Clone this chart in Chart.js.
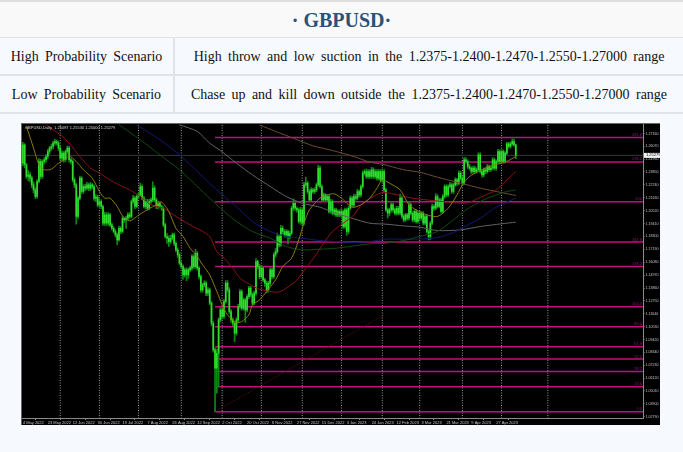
<!DOCTYPE html>
<html>
<head>
<meta charset="utf-8">
<title>GBPUSD</title>
<script src="https://cdn.jsdelivr.net/npm/chart.js@4"></script>
<style>
  html, body { margin: 0; padding: 0; background: #f6f9fe; }
  body { width: 683px; height: 452px; overflow: hidden; position: relative; font-family: "Liberation Serif", serif; color: #111; }
  #titulo { position: absolute; left: 0; top: 2px; width: 683px; height: 35px; line-height: 36px; background: #f9f9f9; text-align: center;
    font-weight: bold; font-size: 20px; color: #2a5278; border-top: 2px solid #dedede; margin-top: -2px; border-bottom: 1px solid #dfe3ea; }
  table { position: absolute; left: 0; top: 38px; width: 683px; border-collapse: collapse; table-layout: fixed; font-size: 14px; }
  td { height: 34px; padding: 2px 0 0 0; text-align: center; border-bottom: 2px solid #dfe3ea; white-space: nowrap; }
  td.esq { width: 173px; border-right: 2px solid #dfe3ea; word-spacing: 2.7px; }
  td.dir { word-spacing: 2.9px; }
  #moldura { position: absolute; left: 21px; top: 123px; width: 639px; height: 302px; background: #000; border-top: 1px solid #666; box-sizing: border-box; border-left: 1px solid #666; }
  canvas { position: absolute; left: 0; top: 0; filter: blur(0.3px); }
</style>
</head>
<body>
<div id="titulo">· GBPUSD·</div>
<table>
  <tr><td class="esq">High Probability Scenario</td><td class="dir">High throw and low suction in the 1.2375-1.2400-1.2470-1.2550-1.27000 range</td></tr>
  <tr><td class="esq">Low Probability Scenario</td><td class="dir">Chase up and kill down outside the 1.2375-1.2400-1.2470-1.2550-1.27000 range</td></tr>
</table>
<div id="moldura"><canvas id="grafico" width="638" height="301"></canvas></div>

<script>
// candles, um por dia
const opens = [
  1.2461,1.2619,1.2447,1.2346,1.2360,1.2332,1.2274,1.2231,1.2174,1.2303,
  1.2475,1.2346,1.2475,1.2490,1.2518,1.2561,1.2590,1.2604,1.2633,1.2647,
  1.2633,1.2590,1.2504,1.2547,1.2490,1.2561,1.2590,1.2490,1.2475,1.2317,
  1.2274,1.2002,1.2160,1.2332,1.2217,1.2260,1.2246,1.2274,1.2246,1.2274,
  1.2260,1.2160,1.2168,1.2102,1.2131,1.2088,1.1944,1.2016,1.1944,1.2016,
  1.1930,1.1901,1.1873,1.1844,1.1801,1.1901,1.1873,1.1987,1.1973,1.1987,
  1.2016,1.2002,1.2131,1.2160,1.2088,1.2174,1.2188,1.2260,1.2160,1.2088,
  1.2131,1.2073,1.2131,1.2145,1.2246,1.2145,1.2088,1.2116,1.2088,1.2073,
  1.1930,1.1830,1.1815,1.1786,1.1815,1.1844,1.1772,1.1715,1.1672,1.1600,
  1.1571,1.1499,1.1542,1.1499,1.1542,1.1557,1.1657,1.1571,1.1686,1.1557,
  1.1485,1.1370,1.1413,1.1428,1.1342,1.1370,1.1256,1.1083,1.0854,1.0696,
  1.0825,1.1112,1.1198,1.1141,1.1270,1.1428,1.1370,1.1184,1.1112,1.1083,
  1.0997,1.1112,1.1227,1.1356,1.1212,1.1284,1.1198,1.1313,1.1385,1.1327,
  1.1256,1.1342,1.1614,1.1571,1.1485,1.1557,1.1456,1.1428,1.1370,1.1428,
  1.1542,1.1485,1.1672,1.1700,1.1830,1.1758,1.1901,1.1873,1.1844,1.1873,
  1.1830,1.1858,1.2073,1.2116,1.2073,1.2059,1.1959,1.2059,1.1944,1.2274,
  1.2289,1.2217,1.2145,1.2231,1.2217,1.2231,1.2274,1.2418,1.2260,1.2145,
  1.2188,1.2145,1.2174,1.2045,1.2131,1.2030,1.2059,1.2016,1.2045,1.2016,
  1.2045,1.1916,1.2059,1.1873,1.2073,1.2160,1.2102,1.2174,1.2160,1.2217,
  1.2188,1.2260,1.2375,1.2389,1.2346,1.2389,1.2346,1.2404,1.2346,1.2389,
  1.2332,1.2389,1.2317,1.2389,1.2231,1.2059,1.2030,1.2059,1.2102,1.2059,
  1.2030,1.2073,1.2030,1.2160,1.2002,1.1973,1.2016,1.1987,1.2102,1.2030,
  1.1973,1.2045,1.1959,1.2030,1.1987,1.2030,1.1944,1.2002,1.1873,1.1830,
  1.1944,1.2088,1.2073,1.2174,1.2088,1.2145,1.2045,1.2174,1.2260,1.2188,
  1.2260,1.2274,1.2217,1.2274,1.2317,1.2289,1.2375,1.2332,1.2289,1.2490,
  1.2475,1.2432,1.2418,1.2389,1.2418,1.2389,1.2404,1.2533,1.2389,1.2360,
  1.2404,1.2389,1.2432,1.2404,1.2418,1.2490,1.2418,1.2475,1.2561,1.2475,
  1.2561,1.2475,1.2547,1.2627,1.2604,1.2627,1.2647,1.2619
];
const highs = [
  1.2640,1.2630,1.2460,1.2400,1.2385,1.2350,1.2300,1.2250,1.2320,1.2500,
  1.2495,1.2490,1.2510,1.2535,1.2580,1.2605,1.2625,1.2650,1.2665,1.2660,
  1.2650,1.2610,1.2565,1.2560,1.2575,1.2610,1.2605,1.2505,1.2490,1.2335,
  1.2290,1.2175,1.2350,1.2345,1.2275,1.2280,1.2295,1.2290,1.2295,1.2285,
  1.2275,1.2190,1.2185,1.2150,1.2145,1.2100,1.2040,1.2035,1.2035,1.2030,
  1.1945,1.1915,1.1890,1.1860,1.1920,1.1915,1.2005,1.1995,1.2005,1.2035,
  1.2035,1.2145,1.2185,1.2175,1.2190,1.2205,1.2290,1.2275,1.2175,1.2150,
  1.2150,1.2150,1.2160,1.2300,1.2265,1.2160,1.2135,1.2130,1.2100,1.2085,
  1.1945,1.1855,1.1835,1.1840,1.1860,1.1860,1.1785,1.1730,1.1690,1.1615,
  1.1585,1.1560,1.1560,1.1560,1.1575,1.1675,1.1675,1.1720,1.1700,1.1570,
  1.1500,1.1430,1.1450,1.1445,1.1390,1.1385,1.1270,1.1100,1.0870,1.0860,
  1.1130,1.1215,1.1215,1.1290,1.1450,1.1450,1.1390,1.1200,1.1130,1.1100,
  1.1130,1.1245,1.1375,1.1370,1.1300,1.1300,1.1330,1.1400,1.1400,1.1345,
  1.1360,1.1640,1.1625,1.1590,1.1575,1.1570,1.1470,1.1445,1.1445,1.1560,
  1.1560,1.1690,1.1725,1.1860,1.1845,1.1925,1.1920,1.1890,1.1890,1.1885,
  1.1875,1.2090,1.2155,1.2135,1.2085,1.2075,1.2080,1.2075,1.2295,1.2340,
  1.2305,1.2235,1.2250,1.2245,1.2250,1.2290,1.2445,1.2435,1.2275,1.2205,
  1.2200,1.2190,1.2190,1.2150,1.2145,1.2075,1.2075,1.2060,1.2060,1.2065,
  1.2060,1.2075,1.2075,1.2090,1.2180,1.2175,1.2195,1.2190,1.2235,1.2230,
  1.2275,1.2395,1.2405,1.2410,1.2405,1.2405,1.2425,1.2420,1.2405,1.2405,
  1.2405,1.2405,1.2405,1.2405,1.2245,1.2075,1.2075,1.2120,1.2120,1.2075,
  1.2090,1.2090,1.2195,1.2175,1.2020,1.2030,1.2030,1.2125,1.2115,1.2045,
  1.2060,1.2060,1.2045,1.2045,1.2045,1.2045,1.2015,1.2020,1.1885,1.1960,
  1.2110,1.2105,1.2200,1.2190,1.2160,1.2160,1.2190,1.2275,1.2275,1.2275,
  1.2295,1.2290,1.2290,1.2335,1.2330,1.2395,1.2390,1.2345,1.2510,1.2510,
  1.2490,1.2450,1.2430,1.2435,1.2435,1.2420,1.2550,1.2550,1.2405,1.2420,
  1.2420,1.2450,1.2445,1.2435,1.2510,1.2505,1.2490,1.2580,1.2575,1.2575,
  1.2575,1.2560,1.2640,1.2640,1.2645,1.2670,1.2668,1.2625
];
const lows = [
  1.2440,1.2420,1.2330,1.2310,1.2300,1.2250,1.2205,1.2155,1.2160,1.2290,
  1.2325,1.2330,1.2455,1.2470,1.2500,1.2540,1.2570,1.2585,1.2615,1.2615,
  1.2570,1.2490,1.2485,1.2470,1.2475,1.2545,1.2470,1.2455,1.2300,1.2250,
  1.1935,1.1985,1.2145,1.2200,1.2200,1.2225,1.2230,1.2225,1.2225,1.2240,
  1.2140,1.2130,1.2085,1.2085,1.2070,1.1925,1.1925,1.1925,1.1925,1.1915,
  1.1885,1.1860,1.1825,1.1760,1.1790,1.1855,1.1860,1.1950,1.1900,1.1970,
  1.1985,1.1990,1.2115,1.2070,1.2075,1.2155,1.2175,1.2145,1.2075,1.2070,
  1.2055,1.2060,1.2115,1.2130,1.2130,1.2070,1.2070,1.2075,1.2055,1.1915,
  1.1815,1.1770,1.1745,1.1770,1.1800,1.1750,1.1700,1.1650,1.1585,1.1555,
  1.1460,1.1480,1.1450,1.1470,1.1530,1.1540,1.1555,1.1555,1.1540,1.1465,
  1.1350,1.1350,1.1395,1.1320,1.1320,1.1240,1.1060,1.0835,1.0323,1.0481,
  1.0538,1.1095,1.1120,1.1125,1.1255,1.1350,1.1165,1.1090,1.1060,1.0925,
  1.0980,1.1095,1.1210,1.1195,1.1195,1.1090,1.1180,1.1295,1.1310,1.1240,
  1.1240,1.1325,1.1550,1.1465,1.1470,1.1440,1.1400,1.1345,1.1350,1.1410,
  1.1465,1.1470,1.1655,1.1685,1.1740,1.1745,1.1855,1.1825,1.1825,1.1765,
  1.1810,1.1845,1.2055,1.2055,1.2040,1.1945,1.1935,1.1920,1.1930,1.2255,
  1.2200,1.2130,1.2130,1.2200,1.2200,1.2215,1.2260,1.2245,1.2130,1.2130,
  1.2130,1.2130,1.2030,1.2030,1.2015,1.2015,1.2000,1.2000,1.2000,1.2000,
  1.1900,1.1900,1.1840,1.1855,1.2060,1.2085,1.2085,1.2145,1.2145,1.2170,
  1.2170,1.2245,1.2360,1.2330,1.2330,1.2330,1.2330,1.2330,1.2330,1.2315,
  1.2315,1.2300,1.2300,1.2215,1.2045,1.1990,1.2010,1.2040,1.2040,1.2015,
  1.2015,1.2015,1.2015,1.1985,1.1955,1.1960,1.1970,1.1970,1.2015,1.1955,
  1.1955,1.1945,1.1945,1.1970,1.1970,1.1930,1.1930,1.1860,1.1800,1.1805,
  1.1930,1.2055,1.2060,1.2075,1.2075,1.2030,1.2030,1.2160,1.2170,1.2175,
  1.2245,1.2200,1.2200,1.2260,1.2270,1.2275,1.2315,1.2270,1.2275,1.2460,
  1.2415,1.2400,1.2370,1.2375,1.2375,1.2375,1.2390,1.2375,1.2340,1.2345,
  1.2370,1.2375,1.2390,1.2390,1.2405,1.2400,1.2400,1.2460,1.2460,1.2460,
  1.2460,1.2460,1.2535,1.2590,1.2590,1.2615,1.2605,1.2500
];
const closes = [
  1.2619,1.2447,1.2346,1.2360,1.2332,1.2274,1.2231,1.2174,1.2303,1.2475,
  1.2346,1.2475,1.2490,1.2518,1.2561,1.2590,1.2604,1.2633,1.2647,1.2633,
  1.2590,1.2504,1.2547,1.2490,1.2561,1.2590,1.2490,1.2475,1.2317,1.2274,
  1.2002,1.2160,1.2332,1.2217,1.2260,1.2246,1.2274,1.2246,1.2274,1.2260,
  1.2160,1.2168,1.2102,1.2131,1.2088,1.1944,1.2016,1.1944,1.2016,1.1930,
  1.1901,1.1873,1.1844,1.1801,1.1901,1.1873,1.1987,1.1973,1.1987,1.2016,
  1.2002,1.2131,1.2160,1.2088,1.2174,1.2188,1.2260,1.2160,1.2088,1.2131,
  1.2073,1.2131,1.2145,1.2246,1.2145,1.2088,1.2116,1.2088,1.2073,1.1930,
  1.1830,1.1815,1.1786,1.1815,1.1844,1.1772,1.1715,1.1672,1.1600,1.1571,
  1.1499,1.1542,1.1499,1.1542,1.1557,1.1657,1.1571,1.1686,1.1557,1.1485,
  1.1370,1.1413,1.1428,1.1342,1.1370,1.1256,1.1083,1.0854,1.0696,1.0825,
  1.1112,1.1198,1.1141,1.1270,1.1428,1.1370,1.1184,1.1112,1.1083,1.0997,
  1.1112,1.1227,1.1356,1.1212,1.1284,1.1198,1.1313,1.1385,1.1327,1.1256,
  1.1342,1.1614,1.1571,1.1485,1.1557,1.1456,1.1428,1.1370,1.1428,1.1542,
  1.1485,1.1672,1.1700,1.1830,1.1758,1.1901,1.1873,1.1844,1.1873,1.1830,
  1.1858,1.2073,1.2116,1.2073,1.2059,1.1959,1.2059,1.1944,1.2274,1.2289,
  1.2217,1.2145,1.2231,1.2217,1.2231,1.2274,1.2418,1.2260,1.2145,1.2188,
  1.2145,1.2174,1.2045,1.2131,1.2030,1.2059,1.2016,1.2045,1.2016,1.2045,
  1.1916,1.2059,1.1873,1.2073,1.2160,1.2102,1.2174,1.2160,1.2217,1.2188,
  1.2260,1.2375,1.2389,1.2346,1.2389,1.2346,1.2404,1.2346,1.2389,1.2332,
  1.2389,1.2317,1.2389,1.2231,1.2059,1.2030,1.2059,1.2102,1.2059,1.2030,
  1.2073,1.2030,1.2160,1.2002,1.1973,1.2016,1.1987,1.2102,1.2030,1.1973,
  1.2045,1.1959,1.2030,1.1987,1.2030,1.1944,1.2002,1.1873,1.1830,1.1944,
  1.2088,1.2073,1.2174,1.2088,1.2145,1.2045,1.2174,1.2260,1.2188,1.2260,
  1.2274,1.2217,1.2274,1.2317,1.2289,1.2375,1.2332,1.2289,1.2490,1.2475,
  1.2432,1.2418,1.2389,1.2418,1.2389,1.2404,1.2533,1.2389,1.2360,1.2404,
  1.2389,1.2432,1.2404,1.2418,1.2490,1.2418,1.2475,1.2561,1.2475,1.2561,
  1.2475,1.2547,1.2627,1.2604,1.2627,1.2647,1.2619,1.2528
];

// medias moveis: [indice do candle, preco]
const maAmarela = [[2,1.2777],[6,1.2590],[9,1.2447],[12,1.2404],[16,1.2409],[20,1.2461],[24,1.2495],[26,1.2524],[30,1.2475],[34,1.2404],[39,1.2332],[43,1.2217],[46,1.2160],[49,1.2160],[53,1.2088],[56,1.2007],[60,1.1964],[64,1.2002],[69,1.2053],[74,1.2094],[78,1.2125],[82,1.2045],[86,1.1901],[90,1.1830],[94,1.1729],[98,1.1657],[101,1.1586],[105,1.1499],[109,1.1356],[112,1.1241],[115,1.1155],[120,1.1089],[123,1.1098],[127,1.1155],[129,1.1241],[133,1.1284],[142,1.1456],[146,1.1571],[151,1.1643],[155,1.1801],[158,1.1944],[161,1.2059],[167,1.2160],[171,1.2188],[175,1.2197],[179,1.2160],[185,1.2082],[190,1.2102],[195,1.2160],[199,1.2246],[202,1.2317],[206,1.2289],[212,1.2231],[217,1.2102],[221,1.2059],[227,1.2016],[233,1.2002],[239,1.2073],[244,1.2188],[247,1.2274],[251,1.2346],[256,1.2389],[262,1.2432],[269,1.2461],[273,1.2484],[277,1.2518]];
const maVermelha = [[13,1.2791],[21,1.2705],[26,1.2633],[32,1.2518],[38,1.2418],[43,1.2375],[49,1.2317],[54,1.2274],[60,1.2231],[66,1.2174],[72,1.2102],[79,1.2073],[86,1.2002],[94,1.1930],[101,1.1873],[105,1.1830],[109,1.1700],[113,1.1643],[118,1.1557],[122,1.1471],[128,1.1413],[133,1.1376],[144,1.1353],[154,1.1456],[159,1.1557],[164,1.1657],[169,1.1772],[174,1.1873],[180,1.1944],[186,1.2016],[191,1.2116],[197,1.2174],[202,1.2208],[208,1.2197],[216,1.2168],[223,1.2151],[232,1.2137],[246,1.2116],[251,1.2125],[259,1.2180],[266,1.2231],[272,1.2317],[277,1.2389]];
const maVerde = [[54,1.2791],[66,1.2662],[77,1.2533],[88,1.2404],[99,1.2246],[111,1.2073],[120,1.1959],[129,1.1873],[139,1.1815],[148,1.1743],[157,1.1715],[167,1.1720],[176,1.1729],[186,1.1749],[195,1.1766],[204,1.1772],[214,1.1795],[223,1.1830],[233,1.1873],[242,1.1973],[249,1.2059],[259,1.2145],[266,1.2188],[272,1.2217],[277,1.2231]];
const maAzul = [[64,1.2791],[77,1.2662],[88,1.2533],[99,1.2375],[111,1.2203],[122,1.2059],[129,1.1959],[139,1.1873],[148,1.1830],[157,1.1815],[167,1.1795],[176,1.1786],[186,1.1778],[195,1.1786],[204,1.1807],[214,1.1807],[223,1.1807],[233,1.1821],[242,1.1864],[249,1.1921],[257,1.1987],[266,1.2082],[277,1.2160]];
const maCinza = [[88,1.2791],[98,1.2734],[105,1.2633],[111,1.2570],[120,1.2461],[129,1.2360],[139,1.2260],[148,1.2174],[157,1.2116],[167,1.2082],[176,1.2030],[186,1.1982],[195,1.1944],[204,1.1936],[214,1.1921],[223,1.1910],[233,1.1881],[246,1.1887],[257,1.1916],[269,1.1939],[277,1.1953]];
const maMarrom = [[133,1.2790],[142,1.2734],[152,1.2676],[163,1.2610],[174,1.2570],[186,1.2518],[195,1.2469],[202,1.2452],[214,1.2404],[223,1.2383],[233,1.2340],[246,1.2289],[257,1.2246],[269,1.2208],[277,1.2183]];
const tendencia = [[108,1.0322],[203,1.1155]];

// niveis de fibonacci
const fibPrecos = [1.2681,1.2472,1.2128,1.1783,1.1571,1.1226,1.1054,1.0882,1.0776,1.0668,1.0537,1.0322];
const fibRotulos = ['261.8','238.2','200','161.8','138.2','100.0','80.0','61.8','50.0','38.2','23.6','0.0'];
const fibInicio = 108;

// separadores verticais (indice do candle)
const separadores = [21,43,65,89,112,134,157,179,202,223,247,269,295];

// eixos
const datasX = ['4 May 2022','23 May 2022','12 Jun 2022','30 Jun 2022','19 Jul 2022','7 Aug 2022','26 Aug 2022','12 Sep 2022','2 Oct 2022','20 Oct 2022','8 Nov 2022','27 Nov 2022','15 Dec 2022','3 Jan 2023','24 Jan 2023','12 Feb 2023','3 Mar 2023','21 Mar 2023','9 Apr 2023','27 Apr 2023'];
const passoX = 14;
const ticksY = [1.27160,1.26070,1.24960,1.23850,1.22740,1.21630,1.20520,1.19410,1.18300,1.17190,1.16080,1.14970,1.13860,1.12750,1.11640,1.10530,1.09420,1.08340,1.07230,1.06120,1.05010,1.03900,1.02790];
const precoAtual = 1.25279;
const cabecalho = 'GBPUSD,Daily  1.25087 1.25530 1.25000 1.25279';

const yMin = 1.02635, yMax = 1.2798;
const xMin = -0.5, xMax = 348.5;

function linha(pontos, cor, ordem, extra) {
    return Object.assign({
        type: 'line',
        data: pontos.map(function (p) { return { x: p[0], y: p[1] }; }),
        borderColor: cor,
        borderWidth: 1,
        pointRadius: 0,
        tension: 0.25,
        fill: false,
        order: ordem
    }, extra || {});
}

var datasets = [];

//separadores e linha do preco atual, no fundo
separadores.forEach(function (s) {
    datasets.push(linha([[s, yMin], [s, yMax]], '#9c9c9c', 30, { borderDash: [1, 1.5], tension: 0 }));
});
datasets.push(linha([[xMin, precoAtual], [xMax, precoAtual]], '#343838', 29, { tension: 0 }));

//fibonacci
fibPrecos.forEach(function (f) {
    datasets.push(linha([[fibInicio, f], [xMax, f]], '#c0127e', 20, { tension: 0, borderWidth: 1.5 }));
});
datasets.push(linha(tendencia, '#5c0c0c', 19, { tension: 0, borderDash: [1, 1] }));

//candles: pavio e corpo
datasets.push({
    type: 'bar',
    data: lows.map(function (l, i) { return { x: i, y: [l, highs[i]] }; }),
    backgroundColor: '#0c8a10',
    barThickness: 1,
    grouped: false,
    order: 11
});
datasets.push({
    type: 'bar',
    data: opens.map(function (o, i) { return { x: i, y: [o, closes[i]] }; }),
    backgroundColor: '#30dc30',
    barThickness: 1,
    grouped: false,
    order: 10
});

//medias
datasets.push(linha(maMarrom, '#6e4a30', 6));
datasets.push(linha(maCinza, '#626262', 5));
datasets.push(linha(maAzul, '#101a70', 4));
datasets.push(linha(maVerde, '#0f4a12', 3));
datasets.push(linha(maVermelha, '#8c1218', 2));
datasets.push(linha(maAmarela, '#8a7a12', 1));

//textos que o mt4 escreve dentro do grafico
const textosMt4 = {
    id: 'textosMt4',
    afterDatasetsDraw: function (chart) {
        var ctx = chart.ctx, y = chart.scales.y, area = chart.chartArea;
        ctx.save();
        ctx.textBaseline = 'bottom';
        ctx.textAlign = 'right';
        ctx.font = '4px "Liberation Sans"';
        ctx.fillStyle = '#8e1476';
        fibRotulos.forEach(function (r, i) {
            ctx.fillText(r, area.right - 1, y.getPixelForValue(fibPrecos[i]) - 0.5);
        });
        ctx.textAlign = 'left';
        ctx.textBaseline = 'middle';
        ctx.fillStyle = '#d8d8d8';
        ctx.fillText(cabecalho, 3, 3.5);
        var py = y.getPixelForValue(precoAtual);
        ctx.fillStyle = '#f4f4f4';
        ctx.fillRect(area.right + 1, py - 2.5, 16, 5);
        ctx.fillStyle = '#000';
        ctx.fillText(precoAtual.toFixed(5), area.right + 3, py);
        ctx.restore();
    }
};

const config = {
    data: { datasets: datasets },
    options: {
        responsive: false,
        animation: false,
        events: [],
        layout: { padding: 0 },
        plugins: { legend: { display: false }, tooltip: { enabled: false } },
        scales: {
            x: {
                type: 'linear',
                min: xMin,
                max: xMax,
                offset: false,
                border: { color: '#8a8a8a' },
                grid: { drawOnChartArea: false, tickLength: 1.5, color: '#8a8a8a' },
                afterBuildTicks: function (scale) {
                    scale.ticks = datasX.map(function (d, i) { return { value: i * passoX }; });
                },
                afterFit: function (scale) {
                    scale.height = 6.5;
                    scale.paddingLeft = 0;
                    scale.paddingRight = 0;
                },
                ticks: {
                    autoSkip: false,
                    maxRotation: 0,
                    align: 'start',
                    padding: 0,
                    color: '#c4c4c4',
                    font: { size: 4, family: 'Liberation Sans' },
                    callback: function (v) { return datasX[v / passoX]; }
                }
            },
            y: {
                type: 'linear',
                position: 'right',
                min: yMin,
                max: yMax,
                border: { color: '#8a8a8a' },
                grid: { drawOnChartArea: false, tickLength: 1.5, color: '#8a8a8a' },
                afterBuildTicks: function (scale) {
                    scale.ticks = ticksY.map(function (v) { return { value: v }; });
                },
                afterFit: function (scale) {
                    scale.width = 17;
                    scale.paddingTop = 0;
                    scale.paddingBottom = 0;
                },
                ticks: {
                    autoSkip: false,
                    padding: 1,
                    color: '#c4c4c4',
                    font: { size: 3.6, family: 'Liberation Sans' },
                    callback: function (v) { return v.toFixed(5); }
                }
            }
        }
    },
    plugins: [textosMt4]
};

var grafico = new Chart(document.getElementById('grafico'), config);
</script>
</body>
</html>
